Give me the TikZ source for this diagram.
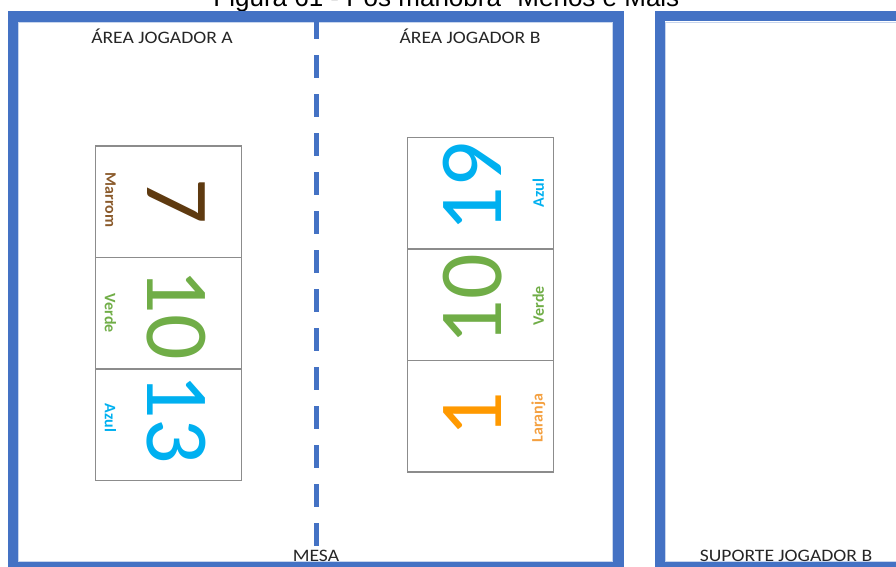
\documentclass[tikz,border=0pt]{standalone}
\usepackage{fontspec}
\setmainfont{Carlito}
\newfontfamily\titlefont{Liberation Sans}
\newfontfamily\areafont[FakeStretch=1.12]{Carlito}
\usetikzlibrary{positioning}

\definecolor{mesablue}{HTML}{4472C4}
\definecolor{cardgray}{HTML}{8C8C8C}
\definecolor{marrom}{HTML}{5E3A10}
\definecolor{marromlbl}{HTML}{8A5A2B}
\definecolor{verde}{HTML}{70AD47}
\definecolor{azul}{HTML}{00B0F0}
\definecolor{laranja}{HTML}{FF9900}
\definecolor{laranjalbl}{HTML}{F4A040}

\begin{document}
\begin{tikzpicture}[x=1pt, y=-1pt,
  card/.style={draw=cardgray, line width=1.2pt, minimum width=146pt,
    minimum height=111.5pt, inner sep=0pt, outer sep=0pt},
  num/.style={font=\fontsize{90}{90}\selectfont, inner sep=0pt},
  cor/.style={font=\bfseries\fontsize{16}{16}\selectfont, inner sep=0pt},
  area/.style={font=\areafont\fontsize{17.5}{20}\selectfont, text=black!85,
    anchor=base, inner sep=0pt}]
\useasboundingbox (0,0) rectangle (896,566);
\clip (0,0) rectangle (896,566);

% title, cut off at the top
\node[font=\titlefont\fontsize{26}{26}\selectfont, anchor=base, inner sep=0pt] (titulo) at (451,6.5) {Figura 61 - Pós manobra "Menos e Mais"};

% mesa and suporte
\coordinate (m1) at (13,16.5);
\coordinate (m2) at (618.3,567);
\coordinate (s1) at (660,16.2);
\coordinate (s2) at (930,567);
\draw[mesablue, line width=10.5pt] (m1) rectangle (m2);
\draw[mesablue, line width=10.5pt] (s1) rectangle (s2);
\draw[mesablue!30, line width=0.8pt] ([shift={(5.7,5.7)}]m1) rectangle ([shift={(-5.7,-5.7)}]m2);
\draw[mesablue!30, line width=0.8pt] ([shift={(5.7,5.7)}]s1) rectangle ([shift={(-5.7,-5.7)}]s2);

% divisao entre as areas
\coordinate (d1) at (316.3,16);
\coordinate (d2) at (316.3,567);
\draw[mesablue, line width=5.5pt, dash pattern=on 23pt off 16pt] (d1) -- (d2);

\node[area] (areaA) at (162,43) {ÁREA JOGADOR A};
\node[area] (areaB) at (470,43) {ÁREA JOGADOR B};
\node[area] (mesa) at (316,561) {MESA};
\node[area] (suporte) at (786,561) {SUPORTE JOGADOR B};

% cartas do jogador A
\node[card] (a1) at (168.5,201.75) {};
\node[card, below=0pt of a1] (a2) {};
\node[card, below=0pt of a2] (a3) {};

\node[num, text=marrom, rotate=-90] (n7) at ([xshift=7.5pt]a1.center) {7};
\node[num, text=verde, rotate=-90] (n10a) at ([xshift=7.5pt,yshift=-1pt]a2.center) {10};
\node[num, text=azul, rotate=-90] (n13) at ([xshift=7.5pt,yshift=6pt]a3.center) {13};

\node[cor, text=marromlbl, rotate=-90] (c7) at ([xshift=-58pt,yshift=1.5pt]a1.center) {Marrom};
\node[cor, text=verde, rotate=-90] (c10a) at ([xshift=-58pt]a2.center) {Verde};
\node[cor, text=azul, rotate=-90] (c13) at ([xshift=-58pt,yshift=7pt]a3.center) {Azul};

% cartas do jogador B
\node[card] (b1) at (480.3,193.25) {};
\node[card, below=0pt of b1] (b2) {};
\node[card, below=0pt of b2] (b3) {};

\node[num, text=azul, rotate=90] (n19) at ([xshift=-8pt,yshift=6pt]b1.center) {19};
\node[num, text=verde, rotate=90] (n10b) at ([xshift=-8pt,yshift=5pt]b2.center) {10};
\node[num, text=laranja, rotate=90] (n1) at ([xshift=-8pt,yshift=2pt]b3.center) {1};

\node[cor, text=azul, rotate=90] (c19) at ([xshift=58pt]b1.center) {Azul};
\node[cor, text=verde, rotate=90] (c10b) at ([xshift=58pt,yshift=-1pt]b2.center) {Verde};
\node[cor, text=laranjalbl, rotate=90] (c1) at ([xshift=58pt,yshift=-2pt]b3.center) {Laranja};
\end{tikzpicture}
\end{document}
